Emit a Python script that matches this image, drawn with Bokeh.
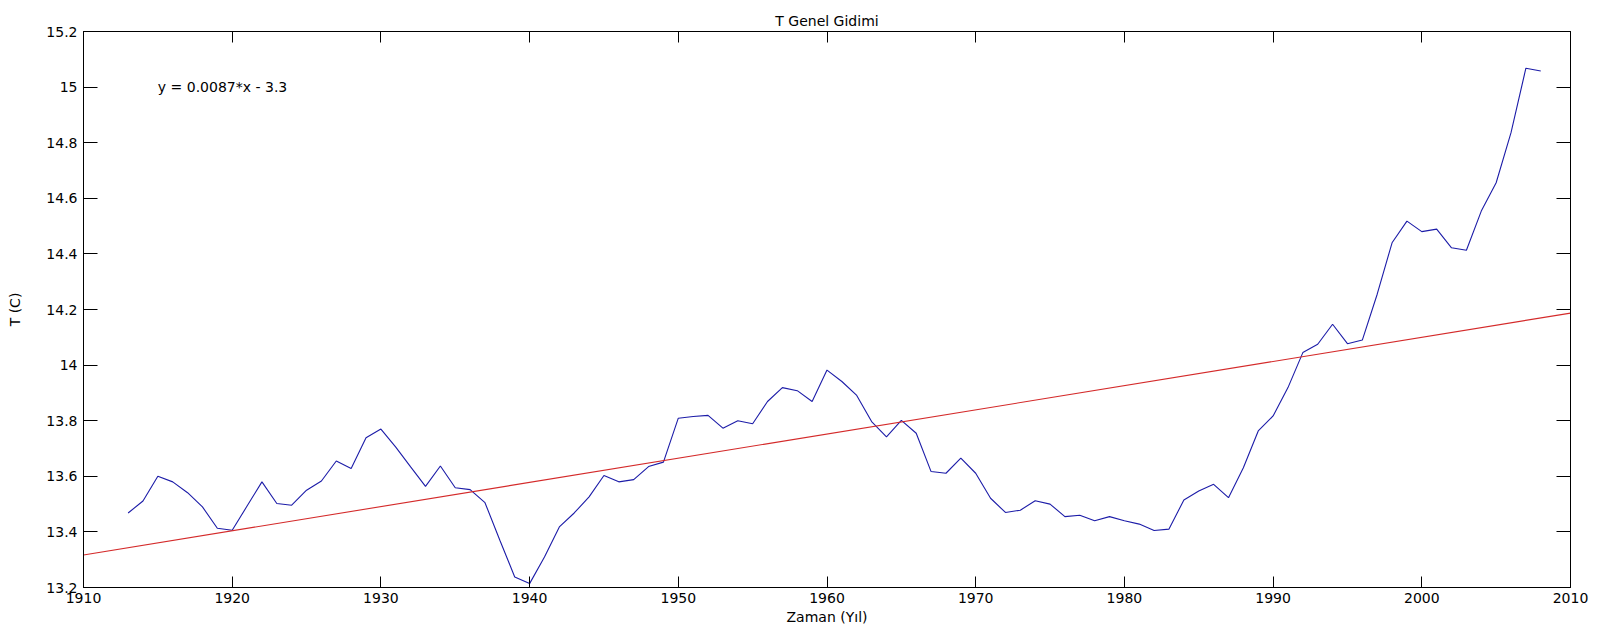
from bokeh.plotting import figure
from bokeh.models import (ColumnDataSource, Range1d, LinearAxis, FixedTicker,
                          CustomJSTickFormatter, Label)
from bokeh.embed import file_html
from bokeh.resources import INLINE

# ---- data ----
years = list(range(1913, 2009))
temps = [13.468, 13.511, 13.600, 13.580, 13.541, 13.490, 13.413, 13.406,
         13.493, 13.580, 13.502, 13.496, 13.550, 13.583, 13.655, 13.628,
         13.739, 13.770, 13.705, 13.634, 13.564, 13.637, 13.559, 13.552,
         13.505, 13.370, 13.238, 13.214, 13.310, 13.418, 13.468, 13.526,
         13.603, 13.580, 13.588, 13.635, 13.651, 13.809, 13.815, 13.819,
         13.773, 13.800, 13.789, 13.869, 13.919, 13.908, 13.869, 13.982,
         13.941, 13.891, 13.797, 13.742, 13.801, 13.755, 13.617, 13.611,
         13.665, 13.611, 13.521, 13.470, 13.478, 13.512, 13.500, 13.455,
         13.460, 13.440, 13.455, 13.440, 13.428, 13.405, 13.410, 13.515,
         13.547, 13.571, 13.523, 13.631, 13.763, 13.817, 13.919, 14.045,
         14.075, 14.147, 14.077, 14.090, 14.255, 14.440, 14.518, 14.480,
         14.489, 14.422, 14.413, 14.554, 14.656, 14.836, 15.068, 15.058]
fit_slope = 0.0087
fit_intercept = -3.3
fit_x = [1910, 2010]
fit_y = [fit_slope * x + fit_intercept for x in fit_x]
x_ticks = [1910, 1920, 1930, 1940, 1950, 1960, 1970, 1980, 1990, 2000, 2010]
y_ticks = [13.2, 13.4, 13.6, 13.8, 14.0, 14.2, 14.4, 14.6, 14.8, 15.0, 15.2]
title_text = "T Genel Gidimi"
x_label = "Zaman (Yıl)"
y_label = "T (C)"
eq_text = "y = 0.0087*x - 3.3"
eq_pos = (1915, 15.0)

FONT = "DejaVu Sans"
FS = "14px"

p = figure(width=1608, height=629, output_backend="svg", toolbar_location=None,
           x_range=Range1d(1910, 2010), y_range=Range1d(13.2, 15.2),
           min_border_left=83, min_border_right=38, min_border_top=31,
           min_border_bottom=42, x_axis_location=None, y_axis_location=None)
p.grid.visible = False
p.outline_line_color = "black"
p.outline_line_width = 1
p.background_fill_color = "white"
p.border_fill_color = "white"

p.title.text = title_text
p.title.align = "center"
p.title.text_font = FONT
p.title.text_font_size = FS
p.title.text_font_style = "normal"
p.title.text_color = "black"
p.title.standoff = 6

fmt = CustomJSTickFormatter(code="return (Math.round(tick*10)/10).toString();")
blank_fmt = CustomJSTickFormatter(code="return '';")

def make_axis(ticks, tick_len, show_labels, label=None):
    ax = LinearAxis(ticker=FixedTicker(ticks=ticks),
                    formatter=fmt if show_labels else blank_fmt)
    ax.major_tick_in = tick_len
    ax.major_tick_out = 0
    ax.minor_tick_line_color = None
    ax.axis_line_color = "black"
    ax.major_tick_line_color = "black"
    ax.major_label_text_font = FONT
    ax.major_label_text_color = "black"
    ax.major_label_text_font_size = FS
    if show_labels:
        ax.major_label_standoff = 5
    else:
        ax.major_label_standoff = 0
    if label:
        ax.axis_label = label
        ax.axis_label_text_font = FONT
        ax.axis_label_text_font_size = FS
        ax.axis_label_text_font_style = "normal"
        ax.axis_label_text_color = "black"
    return ax

xb = make_axis(x_ticks, 11, True, x_label)
xb.axis_label_standoff = 3
xt = make_axis(x_ticks, 11, False)
yl = make_axis(y_ticks, 14, True, y_label)
yl.major_label_standoff = 6
yl.axis_label_standoff = 20
yr = make_axis(y_ticks, 14, False)
p.add_layout(xb, "below")
p.add_layout(xt, "above")
p.add_layout(yl, "left")
p.add_layout(yr, "right")

src = ColumnDataSource(data=dict(x=years, y=temps))
p.line("x", "y", source=src, line_color="#1c1ca8", line_width=1.1)
fsrc = ColumnDataSource(data=dict(x=fit_x, y=fit_y))
p.line("x", "y", source=fsrc, line_color="#d42a2a", line_width=1.1)

p.add_layout(Label(x=eq_pos[0], y=eq_pos[1], text=eq_text, text_font=FONT,
                   text_font_size=FS, text_baseline="middle", text_align="left",
                   text_color="black"))

open("out.html", "w").write(file_html(p, INLINE))
